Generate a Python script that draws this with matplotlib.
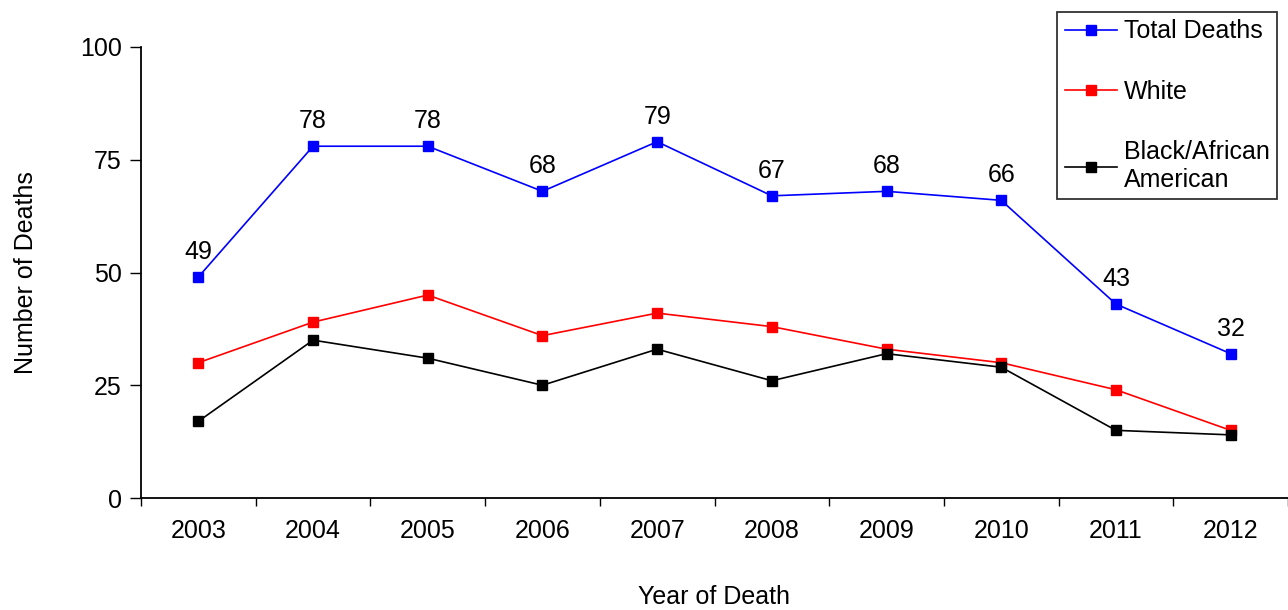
import matplotlib.pyplot as plt

plt.rcParams["font.family"] = ["Liberation Sans", "DejaVu Sans"]

years = ["2003", "2004", "2005", "2006", "2007", "2008", "2009", "2010", "2011", "2012"]
total_deaths = [49, 78, 78, 68, 79, 67, 68, 66, 43, 32]
white = [30, 39, 45, 36, 41, 38, 33, 30, 24, 15]
black = [17, 35, 31, 25, 33, 26, 32, 29, 15, 14]

fig = plt.figure(figsize=(12.88, 6.10), dpi=100)
ax = fig.add_axes([141 / 1288, 1 - 498 / 610, 1 - 141 / 1288, 451 / 610])

x = list(range(len(years)))
series = [
    (total_deaths, "#0000ff", "Total Deaths"),
    (white, "#ff0000", "White"),
    (black, "#000000", "Black/African\nAmerican"),
]
for vals, col, lab in series:
    ax.plot(x, vals, color=col, lw=1.2, marker="s", ms=6.5, label=lab, clip_on=False)

for xi, v in zip(x, total_deaths):
    ax.annotate(str(v), (xi, v), xytext=(0, 18), textcoords="offset points",
                ha="center", va="center", fontsize=18)

ax.set_xlim(-0.5, 9.47)
ax.set_ylim(0, 100)
ax.set_yticks([0, 25, 50, 75, 100])
ax.set_xticks(x)
ax.set_xticklabels(years)
ax.set_xticks([i + 0.5 for i in range(-1, 10)], minor=True)
ax.tick_params(axis="x", which="major", length=0, pad=15, labelsize=18)
ax.tick_params(axis="x", which="minor", length=6, width=1, direction="out")
ax.tick_params(axis="y", length=8, width=1, direction="out", labelsize=18, pad=6)

for s in ["top", "right"]:
    ax.spines[s].set_visible(False)
for s in ["left", "bottom"]:
    ax.spines[s].set_linewidth(1.3)

ax.set_xlabel("Year of Death", fontsize=18, labelpad=30)
ax.set_ylabel("Number of Deaths", fontsize=18, labelpad=30)

leg = fig.legend(loc="upper left", bbox_to_anchor=(1057 / 1288, 1 - 12 / 610),
                 fontsize=18, frameon=True, fancybox=False, edgecolor="black",
                 labelspacing=1.45, handlelength=2.1, handletextpad=0.28,
                 borderpad=0.3, borderaxespad=0)
leg.get_frame().set_linewidth(1.3)

fig.savefig("out.png", dpi=100)
